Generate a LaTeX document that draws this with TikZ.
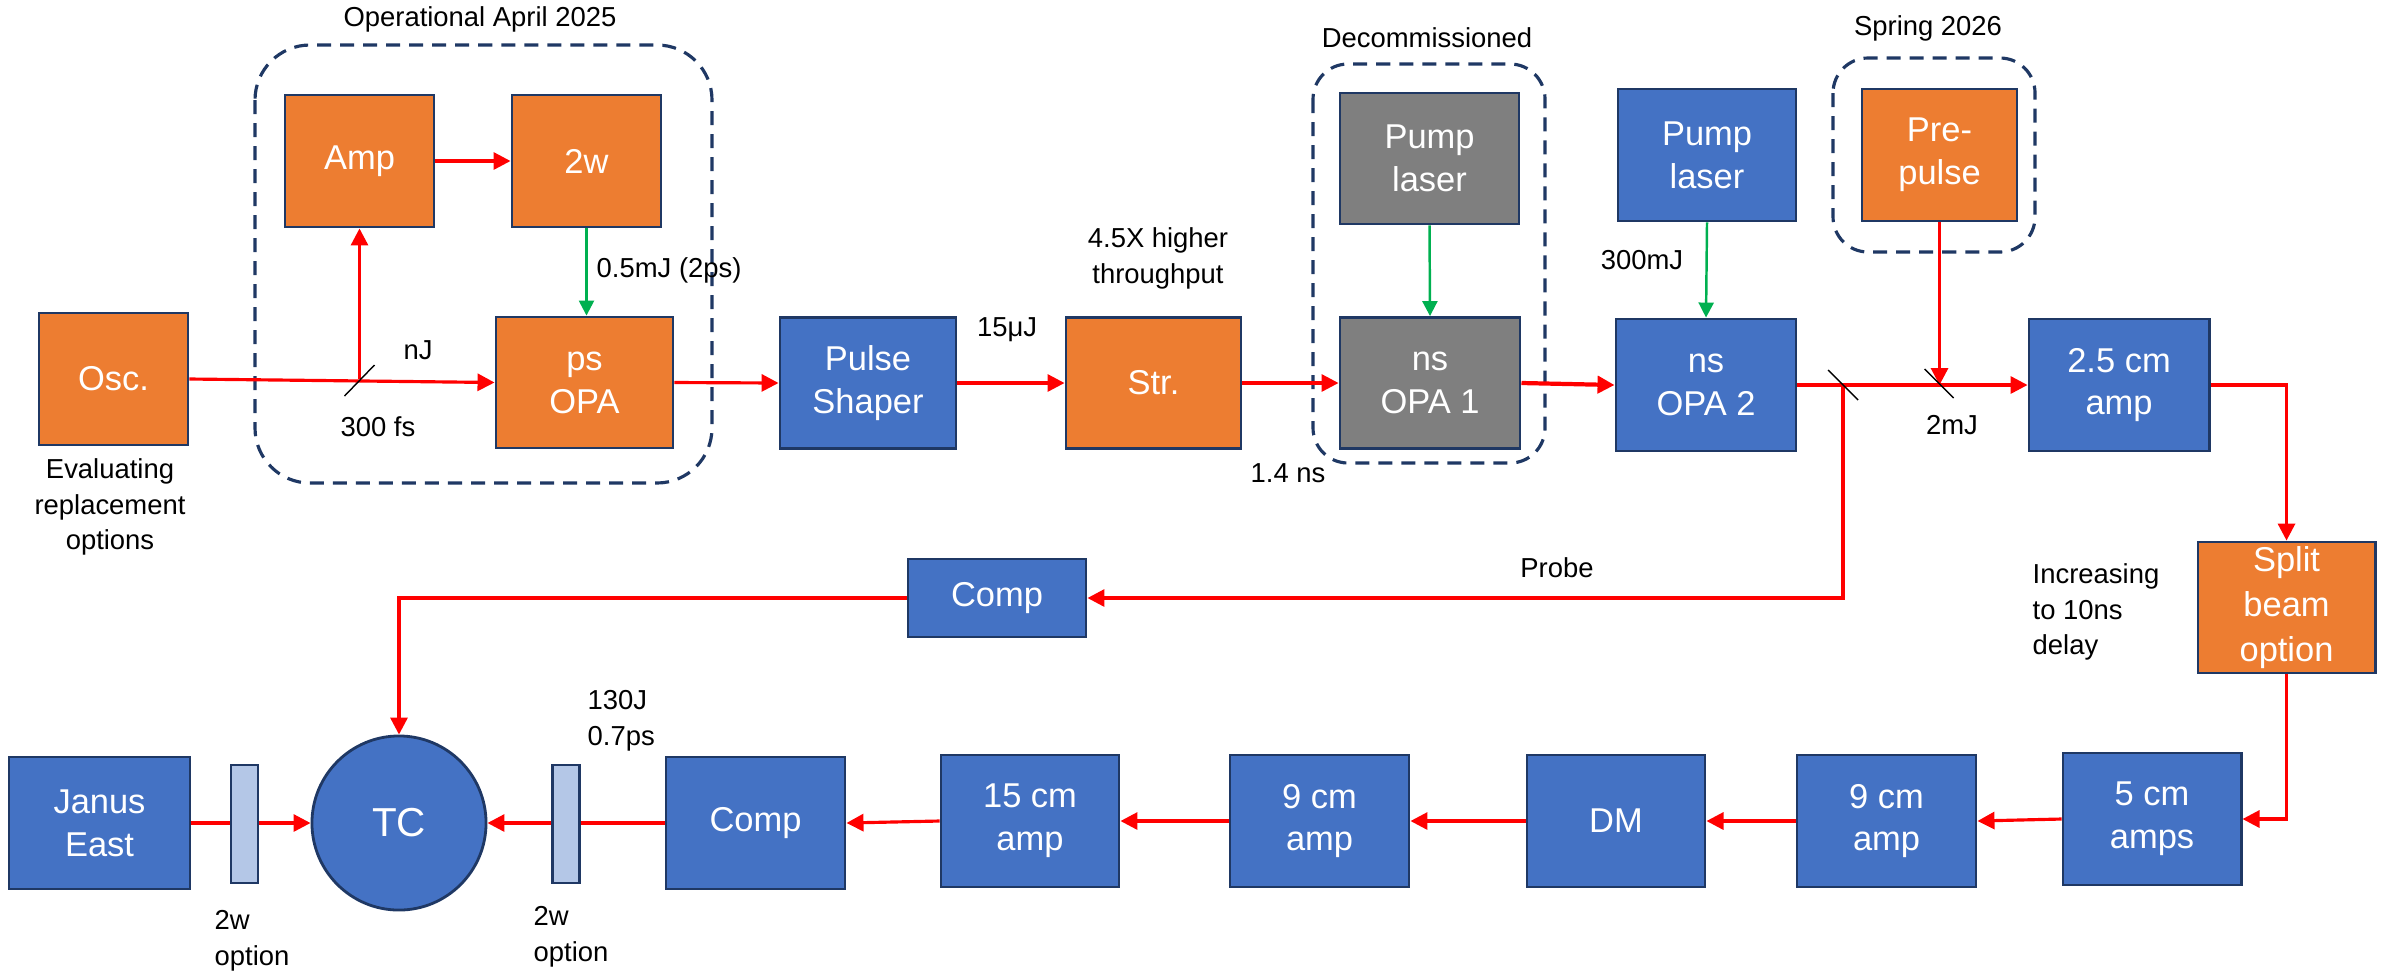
\documentclass[tikz,border=0pt]{standalone}
\usepackage{fontspec}
\setmainfont{Liberation Sans}
\usetikzlibrary{arrows.meta}

\definecolor{laserorange}{HTML}{ED7D31}
\definecolor{laserblue}{HTML}{4472C4}
\definecolor{lasergrey}{HTML}{7F7F7F}
\definecolor{edgenavy}{HTML}{1F3864}
\definecolor{platefill}{HTML}{B4C7E7}
\definecolor{beamred}{HTML}{FF0000}
\definecolor{pumpgreen}{HTML}{00B050}

\tikzset{
  unit/.style={draw=edgenavy, line width=0.8pt, text=white, align=center,
    minimum width=1.78cm, minimum height=1.31cm, inner sep=0pt,
    font=\fontsize{9.8}{12.2}\selectfont},
  orng/.style={unit, fill=laserorange},
  blu/.style={unit, fill=laserblue},
  gry/.style={unit, fill=lasergrey},
  plate/.style={draw=edgenavy, line width=0.8pt, fill=platefill,
    minimum width=0.27cm, minimum height=1.18cm, inner sep=0pt},
  group/.style={draw=edgenavy, line width=0.9pt, dash pattern=on 0.14cm off 0.09cm},
  note/.style={text=black, align=left, inner sep=0pt,
    font=\fontsize{7.8}{10.2}\selectfont},
  beam/.style={draw=beamred, line width=0.9pt, -{Triangle[length=0.17cm,width=0.17cm]}},
  pumpbeam/.style={draw=pumpgreen, line width=0.7pt, -{Triangle[length=0.15cm,width=0.15cm]}},
  tick/.style={draw=black, line width=0.4pt}
}

\begin{document}
\begin{tikzpicture}[x=0.01cm, y=-0.01cm]
  \useasboundingbox (0,0) rectangle (2389,975);

  % Dashed groups
  \draw[group, rounded corners=0.55cm] (255,45) rectangle (712,483);
  \draw[group, rounded corners=0.35cm] (1313,64) rectangle (1545,463);
  \draw[group, rounded corners=0.35cm] (1833,58) rectangle (2035,252);
  \node[note] (opgroup) at (480,19) {Operational April 2025};
  \node[note] (decomgroup) at (1427,38) {Decommissioned};
  \node[note] (springgroup) at (1928,28) {Spring 2026};

  % Front end
  \node[orng, minimum width=1.49cm, minimum height=1.32cm] (osc) at (113.5,379) {Osc.};
  \node[orng, minimum width=1.49cm, minimum height=1.32cm] (amp) at (359.5,161) {Amp};
  \node[orng, minimum width=1.49cm, minimum height=1.32cm] (shg) at (586.5,161) {2w};
  \node[orng, minimum width=1.77cm] (psopa) at (584.5,382.5) {ps\\OPA};
  \node[blu, minimum width=1.76cm] (shaper) at (868,383) {Pulse\\Shaper};
  \node[orng, minimum width=1.75cm] (stretcher) at (1153.5,383) {Str.};
  \node[gry, minimum width=1.79cm] (oldpump) at (1429.5,158.5) {Pump\\laser};
  \node[gry, minimum width=1.8cm] (opa1) at (1430,383) {ns\\OPA 1};
  \node[blu, minimum width=1.78cm, minimum height=1.32cm] (newpump) at (1707,155) {Pump\\laser};
  \node[blu, minimum width=1.8cm, minimum height=1.32cm] (opa2) at (1706,385) {ns\\OPA 2};
  \node[orng, minimum width=1.55cm, minimum height=1.32cm] (prepulse) at (1939.5,155) {Pre-\\pulse};
  \node[blu, minimum width=1.8cm, minimum height=1.32cm] (amp25) at (2119,385) {2.5 cm\\amp};
  \node[orng, minimum width=1.77cm, font=\fontsize{9.8}{12.8}\selectfont] (split) at (2286.5,607.5) {Split\\beam\\option};
  \node[blu, minimum height=0.78cm] (probecomp) at (997,598) {Comp};

  % Main amplifier chain
  \node[blu, minimum height=1.32cm] (amp5) at (2152,819) {5 cm\\amps};
  \node[blu, minimum width=1.79cm, minimum height=1.32cm] (amp9b) at (1886.5,821) {9 cm\\amp};
  \node[blu, minimum height=1.32cm] (dm) at (1616,821) {DM};
  \node[blu, minimum width=1.79cm, minimum height=1.32cm] (amp9a) at (1319.5,821) {9 cm\\amp};
  \node[blu, minimum height=1.32cm] (amp15) at (1030,821) {15 cm\\amp};
  \node[blu, minimum width=1.79cm, minimum height=1.32cm] (maincomp) at (755.5,823) {Comp};
  \node[blu, circle, minimum size=1.74cm, font=\fontsize{11.5}{13}\selectfont] (tc) at (399,823) {TC};
  \node[blu, minimum width=1.81cm, minimum height=1.32cm] (janus) at (99.5,823) {Janus\\East};

  % Beam paths
  \coordinate (amptap) at (amp.south |- osc.east);
  \coordinate (probetap) at (1843,385);
  \coordinate (pretap) at (prepulse.south |- opa2.east);
  \draw[beam] (osc.east) -- (psopa.west);
  \draw[beam] (amptap) -- (amp.south);
  \draw[beam] (amp.east) -- (shg.west);
  \draw[pumpbeam] (shg.south) -- (shg.south |- psopa.north);
  \draw[beam] (psopa.east) -- (shaper.west);
  \draw[beam] (shaper.east) -- (stretcher.west);
  \draw[beam] (stretcher.east) -- (opa1.west);
  \draw[pumpbeam] (oldpump.south) -- (opa1.north);
  \draw[beam, line width=1.2pt] (opa1.east) -- (opa2.west);
  \draw[pumpbeam] (newpump.south) -- (opa2.north);
  \draw[beam] (opa2.east) -- (amp25.west);
  \draw[beam] (prepulse.south) -- (pretap);
  \draw[beam] (probetap) |- (probecomp.east);
  \draw[beam] (probecomp.west) -| (tc.north);
  \draw[beam] (amp25.east) -| (split.north);
  \draw[beam] (split.south) |- (amp5.east);
  \draw[beam] (amp5.west) -- (amp9b.east);
  \draw[beam] (amp9b.west) -- (dm.east);
  \draw[beam] (dm.west) -- (amp9a.east);
  \draw[beam] (amp9a.west) -- (amp15.east);
  \draw[beam] (amp15.west) -- (maincomp.east);
  \draw[beam] (maincomp.west) -- (tc.east);
  \draw[beam] (janus.east) -- (tc.west);

  % Beam splitters
  \draw[tick] (amptap) ++(-15,17) -- ++(30,-31);
  \draw[tick] (probetap) ++(-15,-15) -- ++(30,30);
  \draw[tick] (pretap) ++(-15,-16) -- ++(29,29);

  % Harmonic plates
  \node[plate] (eastplate) at (244.5,824) {};
  \node[plate] (westplate) at (566,824) {};

  % Annotations
  \node[note] (njlabel) at (418,350) {nJ};
  \node[note] (fslabel) at (378,427) {300 fs};
  \node[note, anchor=west] (shglabel) at (596,270) {0.5mJ (2ps)};
  \node[note, align=center] (osclabel) at (110,507) {Evaluating\\replacement\\options};
  \node[note] (ujlabel) at (1007,330) {15μJ};
  \node[note, align=center] (strlabel) at (1158,258) {4.5X higher\\throughput};
  \node[note] (nslabel) at (1288,473) {1.4 ns};
  \node[note] (pumplabel) at (1642,260) {300mJ};
  \node[note] (mjlabel) at (1952,425) {2mJ};
  \node[note] (probelabel) at (1557,568) {Probe};
  \node[note, anchor=west] (delaylabel) at (2032,612) {Increasing\\to 10ns\\delay};
  \node[note, anchor=west] (energylabel) at (587,721) {130J\\0.7ps};
  \node[note, anchor=west] (eastoption) at (214,941) {2w\\option};
  \node[note, anchor=west] (westoption) at (533,937) {2w\\option};
\end{tikzpicture}
\end{document}
